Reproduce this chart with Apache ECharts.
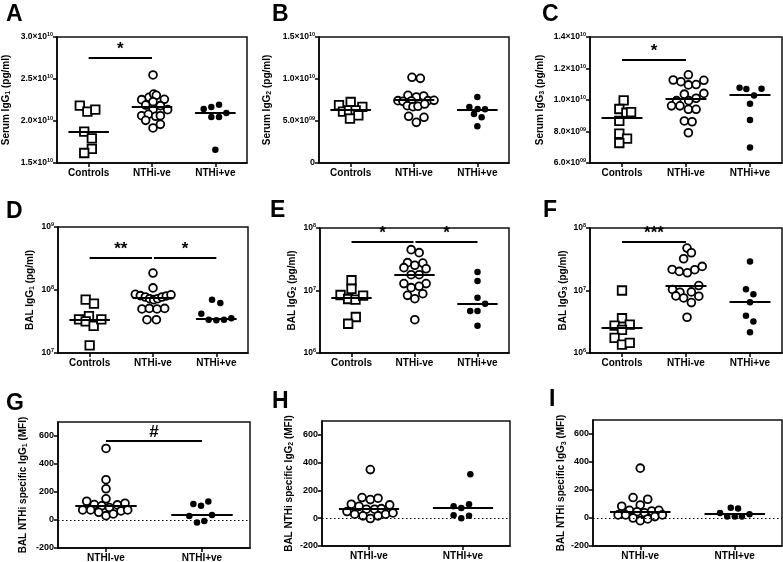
<!DOCTYPE html>
<html><head><meta charset="utf-8">
<script src="https://cdn.jsdelivr.net/npm/echarts@6/dist/echarts.min.js"></script>
<style>html,body{margin:0;padding:0;background:#fff}#c{width:783px;height:562px}</style>
</head><body><div id="c"></div>
<script>
// ---------- categories & tick values ----------
const cats3 = ['Controls', 'NTHi-ve', 'NTHi+ve'];
const cats2 = ['NTHI-ve', 'NTHI+ve'];
const A_yticks = [1.5e10, 2.0e10, 2.5e10, 3.0e10];
const B_yticks = [0, 5e9, 1.0e10, 1.5e10];
const C_yticks = [6e9, 8e9, 1.0e10, 1.2e10, 1.4e10];
const D_yrange = [1e7, 1e9];
const EF_yrange = [1e6, 1e8];
const GHI_yticks = [-200, 0, 200, 400, 600];
const GHI_ymax = 700;

// ---------- Panel A: Serum IgG1 ----------
const A_ctrl = [2.183e10, 2.111e10, 2.135e10, 1.873e10, 1.794e10, 1.667e10, 1.619e10];
const A_ctrl_jit = [-0.14, -0.02, 0.105, -0.07, 0.05, 0.05, -0.07];
const A_neg = [2.548e10, 2.282e10, 2.321e10, 2.306e10, 2.254e10, 2.258e10, 2.230e10, 2.190e10, 2.183e10, 2.135e10, 2.135e10, 2.063e10, 2.079e10, 2.056e10, 2.063e10, 2.008e10, 1.960e10, 1.917e10];
const A_neg_jit = [0.016, -0.047, 0.026, 0.068, -0.163, 0.195, 0.016, -0.1, 0.132, 0.016, 0.247, -0.163, -0.058, 0.058, 0.132, -0.1, 0.132, 0.016];
const A_pos = [2.143e10, 2.167e10, 2.194e10, 2.095e10, 2.048e10, 2.048e10, 1.659e10];
const A_pos_jit = [-0.184, -0.063, 0.058, 0.174, -0.063, 0.058, 0];
const A_med = [1.873e10, 2.167e10, 2.095e10];
const A_sig = [[0, 1, 2.75e10, '*']];

// ---------- Panel B: Serum IgG2 ----------
const B_ctrl = [6.90e9, 7.26e9, 6.67e9, 6.11e9, 6.27e9, 6.27e9, 5.67e9, 5.28e9];
const B_ctrl_jit = [-0.184, 0, 0.184, -0.121, -0.026, 0.079, 0.121, -0.011];
const B_neg = [1.020e10, 1.008e10, 8.06e9, 7.86e9, 7.98e9, 7.42e9, 7.34e9, 7.38e9, 7.42e9, 7.46e9, 6.83e9, 6.71e9, 6.75e9, 7.02e9, 5.56e9, 5.44e9, 4.84e9];
const B_neg_jit = [-0.032, 0.1, -0.095, 0.037, 0.153, -0.253, -0.174, -0.042, 0.221, 0.316, -0.105, -0.016, 0.063, 0.168, -0.084, 0.158, 0.037];
const B_pos = [7.86e9, 6.67e9, 6.39e9, 6.43e9, 5.83e9, 5.44e9, 4.37e9];
const B_pos_jit = [0, -0.126, 0.121, 0.005, -0.053, 0.068, 0];
const B_med = [6.31e9, 7.54e9, 6.31e9];
const B_sig = [];

// ---------- Panel C: Serum IgG3 ----------
const C_ctrl = [9.98e9, 9.43e9, 9.19e9, 9.23e9, 8.67e9, 7.86e9, 7.55e9, 7.27e9];
const C_ctrl_jit = [0.026, -0.042, 0.068, 0.142, -0.042, -0.042, 0.079, -0.042];
const C_neg = [1.160e10, 1.127e10, 1.116e10, 1.125e10, 1.096e10, 1.098e10, 1.037e10, 1.042e10, 9.96e9, 9.96e9, 1.011e10, 9.63e9, 9.63e9, 9.41e9, 9.41e9, 8.67e9, 8.62e9, 7.92e9];
const C_neg_jit = [0.037, -0.2, -0.079, 0.279, 0.037, 0.158, -0.026, 0.279, -0.147, 0.042, 0.158, -0.226, -0.095, 0.037, 0.158, -0.026, 0.095, 0.037];
const C_pos = [1.077e10, 1.070e10, 1.072e10, 1.028e10, 9.76e9, 8.73e9, 6.98e9];
const C_pos_jit = [-0.163, -0.057, 0.18, 0.063, 0, 0, 0];
const C_med = [8.86e9, 1.009e10, 1.031e10];
const C_sig = [[0, 1, 1.256e10, '*']];

// ---------- Panel D: BAL IgG1 ----------
const D_ctrl = [7.03e7, 6.07e7, 3.42e7, 3.86e7, 3.18e7, 2.69e7, 3.42e7, 1.32e7];
const D_ctrl_jit = [-0.063, 0.068, -0.168, -0.011, -0.063, 0.063, 0.184, 0];
const D_neg = [1.86e8, 1.08e8, 8.53e7, 8.13e7, 7.74e7, 7.28e7, 7.03e7, 7.28e7, 7.74e7, 8.05e7, 8.37e7, 5.0e7, 5.1e7, 5.0e7, 5.1e7, 3.38e7, 3.38e7];
const D_neg_jit = [0, 0, -0.279, -0.2, -0.121, -0.053, 0.011, 0.074, 0.142, 0.211, 0.284, -0.174, -0.058, 0.063, 0.184, -0.095, 0.053];
const D_pos = [4.21e7, 7.03e7, 6.22e7, 3.38e7, 3.3e7, 3.38e7, 3.55e7];
const D_pos_jit = [-0.237, -0.068, 0.063, -0.121, 0, 0.121, 0.237];
const D_med = [3.38e7, 7.55e7, 3.5e7];
const D_sig = [[0, 0.985, 3.26e8, '**'], [1.015, 2, 3.26e8, '*']];

// ---------- Panel E: BAL IgG2 ----------
const E_ctrl = [1.46e7, 1.06e7, 8.47e6, 7.31e6, 7.13e6, 8.26e6, 3.77e6, 2.94e6];
const E_ctrl_jit = [0, 0, -0.174, -0.053, 0.063, 0.184, 0.068, -0.053];
const E_neg = [4.5e7, 4.03e7, 2.79e7, 2.75e7, 2.53e7, 2.32e7, 2.23e7, 1.79e7, 1.79e7, 1.29e7, 1.29e7, 1.11e7, 1.17e7, 8.37e6, 8.89e6, 7.39e6, 3.41e6];
const E_neg_jit = [-0.053, 0.074, -0.111, 0.132, 0.005, -0.168, 0.184, -0.053, 0.074, -0.168, 0.184, -0.053, 0.074, -0.111, 0.132, 0.005, 0.005];
const E_pos = [1.98e7, 1.42e7, 7.67e6, 6.15e6, 4.7e6, 4.7e6, 2.74e6];
const E_pos_jit = [0, 0, 0, 0.121, -0.116, 0, 0];
const E_med = [7.67e6, 1.77e7, 6.15e6];
const E_sig = [[0, 0.985, 5.97e7, '*'], [1.015, 2, 5.97e7, '*']];

// ---------- Panel F: BAL IgG3 ----------
const F_ctrl = [1.0e7, 3.6e6, 2.75e6, 2.85e6, 2.34e6, 1.74e6, 1.36e6, 1.45e6];
const F_ctrl_jit = [0, 0, -0.116, 0.121, 0, -0.116, 0, 0.121];
const F_neg = [4.77e7, 4.02e7, 3.22e7, 2.17e7, 2.02e7, 1.92e7, 2.15e7, 2.43e7, 1.04e7, 9.4e6, 9.5e6, 1.2e7, 8.2e6, 7.6e6, 6.4e6, 8.1e6, 3.73e6];
const F_neg_jit = [0.016, 0.084, -0.037, -0.216, -0.105, 0.021, 0.137, 0.253, -0.211, -0.095, 0.084, 0.2, -0.158, -0.037, 0.084, 0.2, 0.016];
const F_pos = [2.92e7, 1.05e7, 8.73e6, 6.49e6, 3.93e6, 3.18e6, 2.14e6];
const F_pos_jit = [0, -0.063, 0.053, 0, -0.063, 0.053, 0];
const F_med = [2.58e6, 1.19e7, 6.49e6];
const F_sig = [[0, 1, 6.1e7, '***']];

// ---------- Panel G: BAL NTHi specific IgG1 (MFI) ----------
const G_neg = [511, 288, 223, 151, 134, 110, 101, 108, 120, 72, 72, 55, 89, 65, 72, 31, 43];
const G_neg_jit = [0, 0, 0, 0, -0.201, -0.122, -0.045, 0.118, 0.198, -0.243, -0.160, -0.076, 0.035, 0.156, 0.226, 0, 0.076];
const G_pos = [115, 101, 132, 29, 36, -17, -7];
const G_pos_jit = [-0.09, -0.01, 0.066, -0.132, 0.104, -0.052, 0.024];
const G_med = [101, 38];
const G_sig = [[0, 1, 569, '#']];

// ---------- Panel H: BAL NTHi specific IgG2 (MFI) ----------
const H_neg = [350, 149, 134, 144, 101, 86, 96, 65, 65, 69, 48, 29, 17, -2, 17, 29, 38];
const H_neg_jit = [0.014, -0.074, 0.014, 0.096, -0.188, -0.106, 0.220, -0.028, 0.060, 0.131, -0.234, -0.152, -0.064, 0.014, 0.096, 0.177, 0.255];
const H_pos = [316, 86, 74, 101, 22, 0, 17];
const H_pos_jit = [0.078, -0.1, -0.018, 0.064, -0.1, -0.018, 0.064];
const H_med = [65, 74];
const H_sig = [];

// ---------- Panel I: BAL NTHi specific IgG3 (MFI) ----------
const I_neg = [356, 146, 134, 93, 84, 55, 45, 38, 50, 55, 22, 22, 0, -19, -7, 10, 22];
const I_neg_jit = [0, -0.076, 0.079, 0, -0.196, -0.114, -0.034, 0.045, 0.121, 0.197, -0.234, -0.155, -0.076, 0, 0.079, 0.155, 0.234];
const I_pos = [36, 74, 68, 10, 10, 10, 27];
const I_pos_jit = [-0.156, -0.042, 0.035, -0.08, 0, 0.076, 0.156];
const I_med = [45, 27];
const I_sig = [];

// ---------- formatting helpers ----------
const FONT = '"Liberation Sans", Arial, Helvetica, sans-serif';
function sciFmt(v) {
  if (Math.abs(v) < 1) return '0';
  const e = Math.floor(Math.log10(Math.abs(v)) + 1e-9);
  const m = v / Math.pow(10, e);
  return '{b|' + m.toFixed(1) + '×10}{s|' + String(e).padStart(2, '0') + '}';
}
function logFmt(v) {
  const e = Math.round(Math.log10(v));
  return '{b|10}{s|' + e + '}';
}
function plainFmt(v) { return String(Math.round(v)); }

const labelRich = {
  b: { fontSize: 8.5, fontWeight: 'bold', color: '#000', fontFamily: FONT, lineHeight: 11 },
  s: { fontSize: 5.5, fontWeight: 'bold', color: '#000', fontFamily: FONT, lineHeight: 6, verticalAlign: 'top' }
};
const nameRich = {
  t: { fontSize: 10, fontWeight: 'bold', color: '#000', fontFamily: FONT, lineHeight: 12 },
  sub: { fontSize: 7, fontWeight: 'bold', color: '#000', fontFamily: FONT, lineHeight: 7, verticalAlign: 'bottom' }
};

// ---------- panel layout ----------
const panels = [
  { letter: 'A', lp: [6, 3], rect: [57, 37, 190, 126], cats: cats3, groups: [A_ctrl, A_neg, A_pos], jit: [A_ctrl_jit, A_neg_jit, A_pos_jit], med: A_med, sig: A_sig, log: false, ticks: A_yticks, ymin: A_yticks[0], ymax: A_yticks[3], fmt: sciFmt, title: ['Serum IgG', '1', ' (pg/ml)'], gap: 45, zero: false },
  { letter: 'B', lp: [272, 3], rect: [319, 37, 190, 126], cats: cats3, groups: [B_ctrl, B_neg, B_pos], jit: [B_ctrl_jit, B_neg_jit, B_pos_jit], med: B_med, sig: B_sig, log: false, ticks: B_yticks, ymin: B_yticks[0], ymax: B_yticks[3], fmt: sciFmt, title: ['Serum IgG', '2', ' (pg/ml)'], gap: 46, zero: false },
  { letter: 'C', lp: [542, 3], rect: [590, 37, 192, 126], cats: cats3, groups: [C_ctrl, C_neg, C_pos], jit: [C_ctrl_jit, C_neg_jit, C_pos_jit], med: C_med, sig: C_sig, log: false, ticks: C_yticks, ymin: C_yticks[0], ymax: C_yticks[4], fmt: sciFmt, title: ['Serum IgG', '3', ' (pg/ml)'], gap: 44, zero: false },
  { letter: 'D', lp: [6, 200], rect: [58, 227, 190, 126], cats: cats3, groups: [D_ctrl, D_neg, D_pos], jit: [D_ctrl_jit, D_neg_jit, D_pos_jit], med: D_med, sig: D_sig, log: true, ymin: D_yrange[0], ymax: D_yrange[1], fmt: logFmt, title: ['BAL IgG', '1', ' (pg/ml)'], gap: 22, zero: false },
  { letter: 'E', lp: [270, 199], rect: [320, 228, 189, 125], cats: cats3, groups: [E_ctrl, E_neg, E_pos], jit: [E_ctrl_jit, E_neg_jit, E_pos_jit], med: E_med, sig: E_sig, log: true, ymin: EF_yrange[0], ymax: EF_yrange[1], fmt: logFmt, title: ['BAL IgG', '2', ' (pg/ml)'], gap: 22, zero: false },
  { letter: 'F', lp: [543, 199], rect: [590, 228, 192, 125], cats: cats3, groups: [F_ctrl, F_neg, F_pos], jit: [F_ctrl_jit, F_neg_jit, F_pos_jit], med: F_med, sig: F_sig, log: true, ymin: EF_yrange[0], ymax: EF_yrange[1], fmt: logFmt, title: ['BAL IgG', '3', ' (pg/ml)'], gap: 21, zero: false },
  { letter: 'G', lp: [6, 392], rect: [58, 422, 192, 126], cats: cats2, groups: [G_neg, G_pos], jit: [G_neg_jit, G_pos_jit], med: G_med, sig: G_sig, log: false, ticks: GHI_yticks, ymin: GHI_yticks[0], ymax: GHI_ymax, fmt: plainFmt, title: ['BAL NTHi specific IgG', '1', ' (MFI)'], gap: 29, zero: true },
  { letter: 'H', lp: [272, 390], rect: [322, 421, 188, 125], cats: cats2, groups: [H_neg, H_pos], jit: [H_neg_jit, H_pos_jit], med: H_med, sig: H_sig, log: false, ticks: GHI_yticks, ymin: GHI_yticks[0], ymax: GHI_ymax, fmt: plainFmt, title: ['BAL NTHi specific IgG', '2', ' (MFI)'], gap: 27, zero: true },
  { letter: 'I', lp: [549, 388], rect: [593, 420, 189, 126], cats: cats2, groups: [I_neg, I_pos], jit: [I_neg_jit, I_pos_jit], med: I_med, sig: I_sig, log: false, ticks: GHI_yticks, ymin: GHI_yticks[0], ymax: GHI_ymax, fmt: plainFmt, title: ['BAL NTHi specific IgG', '3', ' (MFI)'], gap: 24, zero: true }
];

const symOpenSquare = { symbol: 'rect', symbolSize: 8.5, itemStyle: { color: '#fff', borderColor: '#000', borderWidth: 1.8, opacity: 1 } };
const symOpenCircle = { symbol: 'circle', symbolSize: 7.8, itemStyle: { color: '#fff', borderColor: '#000', borderWidth: 1.8, opacity: 1 } };
const symFilled = { symbol: 'circle', symbolSize: 6.5, itemStyle: { color: '#000', opacity: 1 } };

const grids = [], xAxes = [], yAxes = [], series = [], titles = [];
const axisColor = '#000';

panels.forEach((p, i) => {
  const n = p.cats.length;
  const catIdx = p.cats.map((c, k) => k);
  grids.push({ left: p.rect[0], top: p.rect[1], width: p.rect[2], height: p.rect[3], show: true,
    borderColor: '#111', borderWidth: 1.5, backgroundColor: 'transparent', containLabel: false, outerBoundsMode: 'none' });
  titles.push({ text: p.letter, left: p.lp[0], top: p.lp[1], padding: 0,
    textStyle: { fontSize: 23, fontWeight: 'bold', color: '#000', fontFamily: FONT } });
  xAxes.push({
    gridIndex: i, type: 'value', min: -0.5, max: n - 0.5,
    axisLine: { show: true, onZero: false, lineStyle: { color: axisColor, width: 1.5 } },
    axisTick: { show: true, customValues: catIdx, length: 4, lineStyle: { color: axisColor, width: 1.5 } },
    axisLabel: { show: true, customValues: catIdx, formatter: v => p.cats[Math.round(v)], color: '#000',
      fontSize: 10, fontWeight: 'bold', fontFamily: FONT, margin: 5 },
    splitLine: { show: false }
  });
  const y = {
    gridIndex: i, type: p.log ? 'log' : 'value', min: p.ymin, max: p.ymax,
    axisLine: { show: true, onZero: false, lineStyle: { color: axisColor, width: 1.5 } },
    axisTick: { show: true, length: 4, lineStyle: { color: axisColor, width: 1.5 } },
    axisLabel: { show: true, formatter: p.fmt, rich: labelRich, color: '#000', fontSize: 9, fontWeight: 'bold', fontFamily: FONT, margin: 4 },
    splitLine: { show: false }, minorTick: { show: false },
    name: '{t|' + p.title[0] + '}{sub|' + p.title[1] + '}{t|' + p.title[2] + '}',
    nameLocation: 'middle', nameGap: p.gap, nameTextStyle: { rich: nameRich }
  };
  if (p.log) { y.logBase = 10; }
  else { y.axisTick.customValues = p.ticks; y.axisLabel.customValues = p.ticks; }
  yAxes.push(y);

  const ml = [];
  p.med.forEach((m, k) => ml.push([{ coord: [k - 0.32, m] }, { coord: [k + 0.32, m] }]));
  p.sig.forEach(s => ml.push([{ coord: [s[0], s[2]], label: { show: true, formatter: s[3] } }, { coord: [s[1], s[2]] }]));
  if (p.zero) ml.push([{ coord: [-0.5, 0], lineStyle: { type: [1.5, 2.5], width: 1.2 } }, { coord: [n - 0.5, 0] }]);

  const styles = n === 3 ? [symOpenSquare, symOpenCircle, symFilled] : [symOpenCircle, symFilled];
  p.groups.forEach((vals, k) => {
    const s = Object.assign({
      type: 'scatter', xAxisIndex: i, yAxisIndex: i, silent: true, z: 3,
      data: vals.map((v, j) => [k + p.jit[k][j], v])
    }, styles[k]);
    if (k === 0) {
      s.markLine = {
        silent: true, symbol: ['none', 'none'], animation: false, z: 5,
        lineStyle: { color: '#000', width: 2, type: 'solid' },
        label: { show: false, position: 'middle', color: '#000', fontSize: 17, fontWeight: 'bold', fontFamily: FONT, distance: 0 },
        emphasis: { disabled: true },
        data: ml
      };
    }
    series.push(s);
  });
});

const chart = echarts.init(document.getElementById('c'), null, { renderer: 'canvas' });
chart.setOption({
  animation: false,
  backgroundColor: '#fff',
  textStyle: { fontFamily: FONT },
  title: titles,
  grid: grids,
  xAxis: xAxes,
  yAxis: yAxes,
  series: series
});
</script></body></html>
